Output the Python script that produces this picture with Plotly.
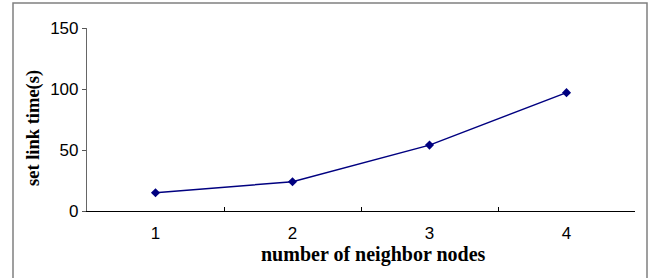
import plotly.graph_objects as go

categories = ["1", "2", "3", "4"]
link_time = [15, 24, 54, 97]
y_ticks = [0, 50, 100, 150]

L, R, T, B = 87, 17, 28, 67
W, H = 652, 278
pw, ph = W - L - R, H - T - B

def px_x(x):
    return (x - L) / pw

def px_y(y):
    return (H - B - y) / ph

fig = go.Figure()
fig.add_trace(go.Scatter(
    x=categories, y=link_time, mode="lines+markers",
    line=dict(color="#000080", width=1.5),
    marker=dict(symbol="diamond", size=7, color="#000080"),
    showlegend=False,
))

fig.update_layout(
    width=W, height=H,
    margin=dict(l=L, r=R, t=T, b=B),
    paper_bgcolor="white", plot_bgcolor="white",
    xaxis=dict(
        type="category", range=[-0.5, len(categories) - 0.5],
        tickson="boundaries", ticks="inside", ticklen=4,
        tickcolor="black", showline=True, linecolor="black", linewidth=1.2,
        showgrid=False, zeroline=False, ticklabelstandoff=6,
        tickfont=dict(family="Liberation Sans, Arial", size=17, color="black"),
    ),
    yaxis=dict(
        range=[0, 150], tickvals=y_ticks, ticks="outside", ticklen=4,
        tickcolor="#555555", showline=True, linecolor="#666666", linewidth=1.2,
        showgrid=False, zeroline=False,
        tickfont=dict(family="Liberation Sans, Arial", size=17, color="black"),
    ),
    shapes=[dict(
        type="rect", xref="paper", yref="paper",
        x0=px_x(13), x1=px_x(647), y0=px_y(300), y1=px_y(3),
        line=dict(color="#808080", width=1.5), layer="below",
    )],
    annotations=[
        dict(text="<b>number of neighbor nodes</b>", xref="paper", yref="paper",
             x=px_x(373), y=px_y(254), xanchor="center", yanchor="middle",
             showarrow=False,
             font=dict(family="Liberation Serif, Times New Roman", size=20, color="black")),
        dict(text="<b>set link time(s)</b>", xref="paper", yref="paper",
             x=px_x(34), y=px_y(128), xanchor="center", yanchor="middle",
             showarrow=False, textangle=-90,
             font=dict(family="Liberation Serif, Times New Roman", size=18.5, color="black")),
    ],
)

fig.write_html("out.html", config={"displayModeBar": False},
               post_script="document.body.style.margin='0';")
